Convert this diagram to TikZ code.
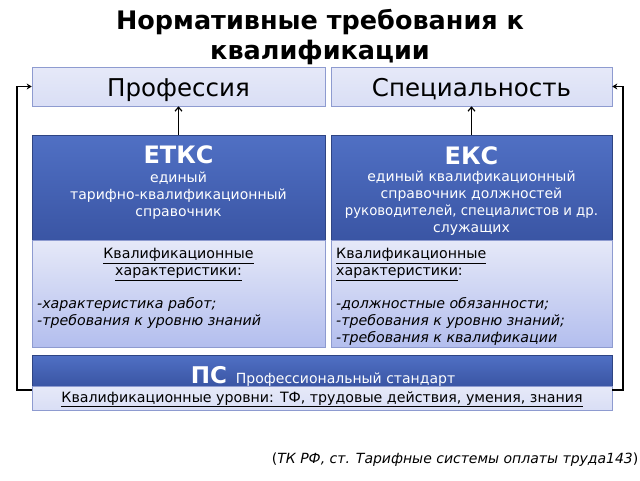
\documentclass[tikz,border=0pt]{standalone}
\usepackage{fontspec}
\setmainfont{DejaVu Sans}
\usetikzlibrary{arrows.meta}
\definecolor{lighttop}{HTML}{E6E9F8}
\definecolor{lightbot}{HTML}{B3BEEE}
\definecolor{darktop}{HTML}{5070C4}
\definecolor{darkbot}{HTML}{3A55A4}
\definecolor{edgecol}{HTML}{8E9BD0}
\tikzset{
  lightbox/.style={draw=edgecol, line width=0.6pt, top color=lighttop, bottom color=lightbot, inner sep=0pt},
  flatlight/.style={draw=edgecol, line width=0.6pt, top color=lighttop, bottom color=lighttop!75!lightbot, inner sep=0pt},
  darkbox/.style={draw=darkbot!80!black, line width=0.4pt, top color=darktop, bottom color=darkbot, inner sep=0pt},
  wl/.style={text=white, anchor=base, inner sep=0pt, font=\fontsize{14}{17}\selectfont},
  wh/.style={text=white, anchor=base, inner sep=0pt, font=\bfseries\fontsize{24}{28}\selectfont},
  bl/.style={text=black, inner sep=0pt, font=\fontsize{14.2}{17}\selectfont},
  bc/.style={bl, anchor=base},
  bw/.style={bl, anchor=base west},
  big/.style={font=\fontsize{24.5}{28}\selectfont},
  arr/.style={line width=1.6pt, -{Straight Barb[length=4pt,width=7pt,line width=1.2pt]}},
  frame/.style={line width=1.6pt, -{Stealth[length=5pt,width=6pt]}},
}
\begin{document}
\begin{tikzpicture}[x=1pt,y=-1pt]
\useasboundingbox (0,0) rectangle (640,480);
% title
\node[font=\bfseries\fontsize{25.5}{30}\selectfont, anchor=base, inner sep=0pt] (title1) at (320,29) {Нормативные требования к};
\node[font=\bfseries\fontsize{25.5}{30}\selectfont, anchor=base, inner sep=0pt] (title2) at (320,59) {квалификации};
% top boxes
\node[flatlight, minimum width=293pt, minimum height=39pt] (prof) at (178.5,86.5) {};
\node[flatlight, minimum width=281pt, minimum height=39pt] (spec) at (471.5,86.5) {};
\node[big, anchor=base, inner sep=0pt] (proft) at (178.5,96) {Профессия};
\node[big, anchor=base, inner sep=0pt] (spect) at (471.5,96) {Специальность};
% dark boxes
\node[darkbox, minimum width=293pt, minimum height=105pt] (etks) at (178.5,187.5) {};
\node[darkbox, minimum width=281pt, minimum height=105pt] (eks) at (471.5,187.5) {};
\node[wh] (etkst) at (178.5,163.5) {ЕТКС};
\node[wl] (etks1) at (178.5,182) {единый};
\node[wl] (etks2) at (178.5,199) {тарифно-квалификационный};
\node[wl] (etks3) at (178.5,216) {справочник};
\node[wh] (ekst) at (471.5,164) {ЕКС};
\node[wl] (eks1) at (471.5,181.5) {единый квалификационный};
\node[wl] (eks2) at (471.5,198.5) {справочник должностей};
\node[wl] (eks3) at (471.5,215.5) {\scalebox{0.95}[1]{руководителей, специалистов и др.}};
\node[wl] (eks4) at (471.5,232.5) {служащих};
% light boxes
\node[lightbox, minimum width=293pt, minimum height=107pt] (etksl) at (178.5,293.5) {};
\node[lightbox, minimum width=281pt, minimum height=107pt] (eksl) at (471.5,293.5) {};
\node[bc] (lh1) at (178.5,258.5) {\underline{Квалификационные}};
\node[bc] (lh2) at (178.5,275.5) {\underline{характеристики:}};
\node[bw] (lb1) at (37,308) {\itshape -характеристика работ;};
\node[bw] (lb2) at (37,325) {\itshape -требования к уровню знаний};
\node[bw] (rh1) at (336,258.5) {\underline{Квалификационные}};
\node[bw] (rh2) at (336,275.5) {\underline{характеристики}:};
\node[bw] (rb1) at (336,308) {\itshape -должностные обязанности;};
\node[bw] (rb2) at (336,325) {\itshape -требования к уровню знаний;};
\node[bw] (rb3) at (336,342) {\itshape -требования к квалификации};
% PS
\node[darkbox, minimum width=580pt, minimum height=31pt] (ps) at (322,370.5) {};
\node[text=white, anchor=base, inner sep=0pt] (pst) at (323,383) {{\bfseries\fontsize{23}{26}\selectfont ПС}\hspace{9pt}{\fontsize{14}{17}\selectfont Профессиональный стандарт}};
\node[flatlight, minimum width=580pt, minimum height=24pt] (psl) at (322,398) {};
\node[bc] (pslt) at (322,402) {\underline{Квалификационные уровни: ТФ, трудовые действия, умения, знания}};
% connectors
\draw[arr] (etks.north) -- (prof.south);
\draw[arr] (eks.north) -- (spec.south);
\coordinate (lc) at (17,390);
\coordinate (rc) at (623,390);
\draw[frame] (psl.west |- lc) -- (lc) |- (prof.west);
\draw[frame] (psl.east |- rc) -- (rc) |- (spec.east);
% footer
\node[anchor=base east, inner sep=0pt, font=\fontsize{14}{16}\selectfont] (foot) at (638.5,463) {(\textit{ТК РФ, ст. Тарифные системы оплаты труда143})};
\end{tikzpicture}
\end{document}
